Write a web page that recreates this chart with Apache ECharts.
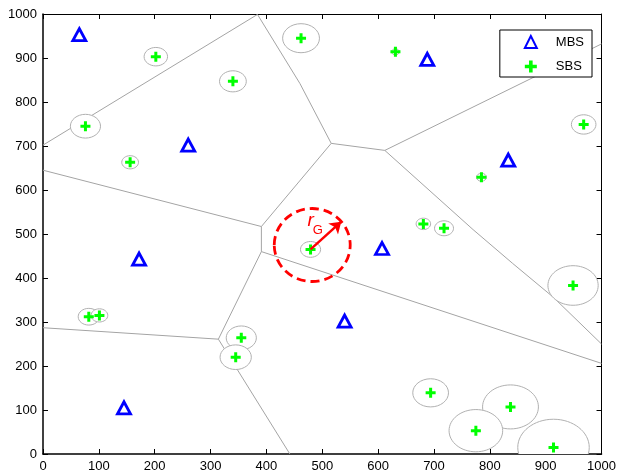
<!DOCTYPE html>
<html>
<head>
<meta charset="utf-8">
<script src="https://cdn.jsdelivr.net/npm/echarts@6/dist/echarts.min.js"></script>
<style>
  html, body { margin: 0; padding: 0; background: #fff; }
  #main { width: 619px; height: 474px; }
</style>
</head>
<body>
<div id="main"></div>
<script>
// macro base stations (blue triangles)
const mbs = [[65, 953], [260, 702], [688, 897], [833, 668], [172, 443], [145, 105], [607, 467], [540, 302]];

// small base stations (green crosses) and the radius of the grey ring around each
const sbs = [[462, 945], [202, 903], [340, 847], [76, 745], [156, 663], [631, 914], [968, 749],
  [785, 629], [681, 523], [718, 513], [82, 312], [101, 315], [355, 264], [345, 220], [479, 465],
  [949, 383], [694, 139], [837, 107], [775, 53], [914, 15]];
const sbsRadius = [33, 21, 24, 27, 15, 7, 22, 9, 13, 17, 19, 15, 27, 28, 18, 45, 32, 50, 48, 64];

// cell borders (polylines)
const edgeA = [[0, 702], [384, 999], [460, 842], [516, 706]];
const edgeB = [[516, 706], [612, 690], [1000, 932]];
const edgeC = [[612, 690], [770, 510], [841, 433], [913, 357], [1000, 250]];
const edgeD = [[516, 706], [391, 517], [391, 460], [1000, 206]];
const edgeE = [[0, 645], [391, 517]];
const edgeF = [[391, 460], [314, 261], [442, 0]];
const edgeG = [[0, 287], [314, 261]];
const edges = [edgeA, edgeB, edgeC, edgeD, edgeE, edgeF, edgeG];

// guard zone around the tagged SBS
const guardCircle = [[482, 475, 68, 83]];
const guardArrow = [[479, 465], [534, 528]];
const guardLabels = [[479, 530, 'r'], [492, 507, 'G']];

const axisMin = 0, axisMax = 1000, axisStep = 100;

const FONT = '"Liberation Sans", Arial, sans-serif';
const plus = 'path://M3.5,0H6.5V3.5H10V6.5H6.5V10H3.5V6.5H0V3.5H3.5Z';

const chart = echarts.init(document.getElementById('main'));

const baseAxis = {
  type: 'value', min: axisMin, max: axisMax, interval: axisStep,
  splitLine: { show: false },
  axisTick: { show: true, inside: true, length: 5, lineStyle: { color: '#000' } }
};

const edgeSeries = edges.map(e => ({
  type: 'line',
  data: e,
  symbol: 'none',
  silent: true,
  lineStyle: { color: '#a4a4a4', width: 1 },
  z: 1
}));

const tickLabel = { color: '#000', fontSize: 13, fontFamily: FONT, margin: 6, formatter: v => String(v) };

const option = {
  animation: false,
  grid: { left: 43, right: 17, top: 14, bottom: 20 },
  xAxis: [
    Object.assign({}, baseAxis, {
      position: 'bottom',
      axisLine: { show: true, onZero: false, lineStyle: { color: '#000', width: 1.5 } },
      axisLabel: tickLabel
    }),
    Object.assign({}, baseAxis, {
      position: 'top',
      axisLine: { show: true, onZero: false, lineStyle: { color: '#000', width: 1 } },
      axisLabel: { show: false }
    })
  ],
  yAxis: [
    Object.assign({}, baseAxis, {
      position: 'left',
      axisLine: { show: true, onZero: false, lineStyle: { color: '#000', width: 1.5 } },
      axisLabel: tickLabel
    }),
    Object.assign({}, baseAxis, {
      position: 'right',
      axisLine: { show: true, onZero: false, lineStyle: { color: '#000', width: 1 } },
      axisLabel: { show: false }
    })
  ],
  legend: {
    data: ['MBS', 'SBS'],
    orient: 'vertical',
    right: 27,
    top: 30,
    backgroundColor: '#fff',
    borderColor: '#000',
    borderWidth: 1,
    borderRadius: 0,
    padding: [5, 8, 4, 24],
    itemWidth: 12,
    itemHeight: 12,
    itemGap: 11,
    textStyle: { color: '#000', fontSize: 13, fontFamily: FONT, padding: [0, 0, 0, 14] }
  },
  series: edgeSeries.concat([
    {
      type: 'custom',
      clip: true,
      silent: true,
      data: sbs.map((p, i) => [p[0], p[1], sbsRadius[i]]),
      renderItem(params, api) {
        const c = api.coord([api.value(0), api.value(1)]);
        const s = api.size([api.value(2), api.value(2)]);
        return {
          type: 'ellipse',
          shape: { cx: c[0], cy: c[1], rx: s[0], ry: s[1] },
          style: { fill: '#fff', stroke: '#b0b0b0', lineWidth: 1 }
        };
      },
      z: 2
    },
    {
      name: 'MBS',
      type: 'scatter',
      data: mbs,
      symbol: 'triangle',
      symbolSize: [13, 12],
      itemStyle: { color: '#fff', borderColor: '#0000ff', borderWidth: 2.8, opacity: 1 },
      z: 5
    },
    {
      name: 'SBS',
      type: 'scatter',
      data: sbs,
      symbol: plus,
      symbolSize: 10,
      itemStyle: { color: '#00ff00', opacity: 1 },
      z: 5
    },
    {
      type: 'custom',
      silent: true,
      data: guardCircle,
      renderItem(params, api) {
        const c = api.coord([api.value(0), api.value(1)]);
        const s = api.size([api.value(2), api.value(3)]);
        return {
          type: 'ellipse',
          shape: { cx: c[0], cy: c[1], rx: s[0], ry: s[1] },
          style: { fill: 'none', stroke: '#ff0000', lineWidth: 2.8, lineDash: [9, 5] }
        };
      },
      z: 6
    },
    {
      type: 'lines',
      coordinateSystem: 'cartesian2d',
      silent: true,
      data: [{ coords: guardArrow }],
      symbol: ['none', 'arrow'],
      symbolSize: 11,
      lineStyle: { color: '#ff0000', width: 2.5, opacity: 1 },
      z: 7
    },
    {
      type: 'custom',
      silent: true,
      data: guardLabels,
      renderItem(params, api) {
        const c = api.coord([api.value(0), api.value(1)]);
        const t = guardLabels[params.dataIndex][2];
        return {
          type: 'text',
          x: c[0], y: c[1],
          style: {
            text: t,
            fill: '#ff0000',
            font: t === 'r' ? 'italic 19px ' + FONT : '13px ' + FONT,
            align: 'center',
            verticalAlign: 'middle'
          }
        };
      },
      z: 7
    }
  ])
};

chart.setOption(option);
</script>
</body>
</html>
